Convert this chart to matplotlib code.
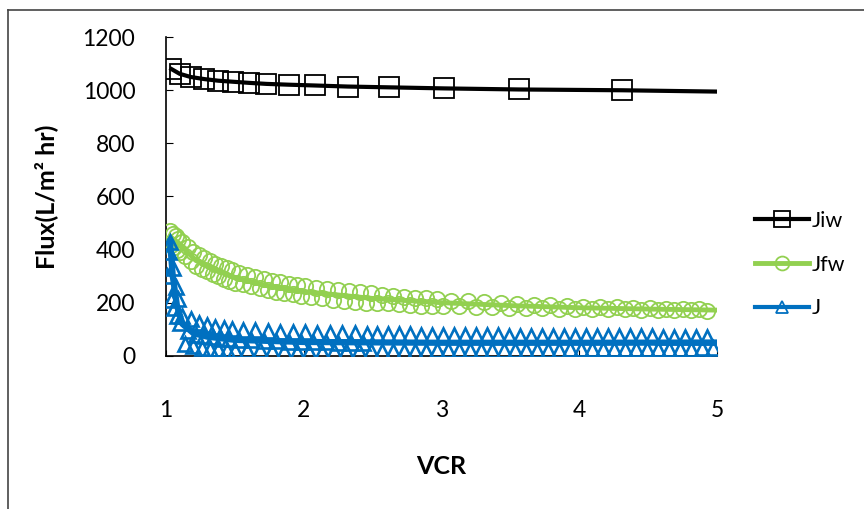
import matplotlib
matplotlib.use("Agg")
import matplotlib.pyplot as plt
from matplotlib.lines import Line2D

plt.rcParams['font.family'] = ['Lato', 'DejaVu Sans']

# Jiw (pure water flux)
jiw_x = [1.04, 1.10, 1.18, 1.28, 1.38, 1.49, 1.60, 1.73, 1.89, 2.08, 2.32, 2.62, 3.02, 3.56, 4.31]
jiw_y = [1080, 1062, 1050, 1042, 1036, 1032, 1028, 1024, 1021, 1018, 1014, 1011, 1007, 1003, 1000]
jiw_line_x = jiw_x + [5.0]
jiw_line_y = jiw_y + [995]

# Jfw (fouled water flux) - trend line and measured points
jfw_line_x = [1.03, 1.10, 1.20, 1.30, 1.50, 1.75, 2.00, 2.50, 3.00, 3.50, 4.00, 4.50, 5.00]
jfw_line_y = [450, 418, 368, 338, 294, 262, 242, 216, 200, 189, 181, 176, 172]
jfw_x = [1.03, 1.04, 1.05, 1.06, 1.07, 1.08, 1.09, 1.10,
         1.12, 1.14, 1.16, 1.18, 1.20, 1.22, 1.24, 1.26, 1.28, 1.30,
         1.32, 1.34, 1.36, 1.38, 1.40, 1.42, 1.44, 1.46, 1.48, 1.50,
         1.53, 1.56, 1.59, 1.62, 1.65, 1.68, 1.71, 1.74, 1.77, 1.80,
         1.83, 1.86, 1.89, 1.92, 1.95, 1.98, 2.01,
         2.05, 2.09, 2.13, 2.17, 2.21, 2.25, 2.29, 2.33, 2.37, 2.41,
         2.45, 2.49, 2.53, 2.57, 2.61, 2.65, 2.69, 2.73, 2.77, 2.81,
         2.85, 2.89, 2.93, 2.97, 3.01,
         3.07, 3.13, 3.19, 3.25, 3.31, 3.37, 3.43, 3.49, 3.55, 3.61,
         3.67, 3.73, 3.79, 3.85, 3.91, 3.97, 4.03, 4.09, 4.15, 4.21,
         4.27, 4.33, 4.39, 4.45, 4.51, 4.57, 4.63, 4.69, 4.75, 4.81,
         4.87, 4.93]
jfw_y = [470, 418, 460, 408, 450, 399, 441, 391,
         430, 376, 410, 356, 392, 340, 378, 328, 367, 318,
         357, 308, 347, 299, 338, 290, 330, 282, 322, 276,
         311, 269, 303, 261, 296, 255, 289, 248, 283, 242,
         277, 237, 272, 231, 267, 226, 262,
         221, 257, 216, 252, 211, 247, 207, 243, 203, 239,
         199, 235, 199, 228, 197, 225, 195, 222, 192, 219,
         189, 216, 187, 214, 187,
         207, 186, 205, 184, 203, 182, 200, 181, 195, 181,
         193, 180, 191, 178, 189, 176, 184, 177, 183, 176,
         182, 175, 180, 174, 179, 173, 178, 172, 177, 171,
         176, 170]

# J (permeate flux) - trend line and measured points
j_line_x = [1.03, 1.05, 1.08, 1.12, 1.20, 1.30, 1.50, 2.00, 3.00, 4.00, 5.00]
j_line_y = [430, 300, 190, 120, 85, 72, 60, 52, 49, 49, 50]
j_x = [1.01, 1.02, 1.03, 1.04, 1.05, 1.06, 1.07, 1.08, 1.09, 1.10,
       1.12, 1.14, 1.16, 1.18, 1.20, 1.22, 1.24, 1.26, 1.28, 1.30,
       1.32, 1.34, 1.36, 1.38, 1.40, 1.42, 1.44, 1.46, 1.48, 1.50,
       1.53, 1.56, 1.59, 1.62, 1.65, 1.68, 1.71, 1.74, 1.77, 1.80,
       1.83, 1.86, 1.89, 1.92, 1.95, 1.98, 2.01, 2.04, 2.07, 2.10,
       2.13, 2.16, 2.19, 2.22, 2.25, 2.28, 2.31, 2.34, 2.37, 2.40,
       2.43, 2.46, 2.49,
       2.53, 2.57, 2.61, 2.65, 2.69, 2.73, 2.77, 2.81, 2.85, 2.89,
       2.93, 2.97, 3.01, 3.05, 3.09, 3.13, 3.17, 3.21, 3.25, 3.29,
       3.33, 3.37, 3.41, 3.45, 3.49, 3.53, 3.57, 3.61, 3.65, 3.69,
       3.73, 3.77, 3.81, 3.85, 3.89, 3.93, 3.97, 4.01, 4.05, 4.09,
       4.13, 4.17, 4.21, 4.25, 4.29, 4.33, 4.37, 4.41, 4.45, 4.49,
       4.53, 4.57, 4.61, 4.65, 4.69, 4.73, 4.77, 4.81, 4.85, 4.89,
       4.93, 4.97]
j_y = [300, 390, 430, 210, 330, 180, 260, 150, 215, 125,
       150, 44, 95, 138, 35, 80, 124, 31, 74, 115,
       27, 70, 110, 25, 65, 105, 23, 62, 101, 22,
       61, 99, 21, 58, 96, 20, 56, 92, 18, 54,
       91, 17, 53, 89, 16, 52, 88, 16, 51, 87,
       16, 51, 86, 17, 50, 85, 17, 50, 84, 17,
       50, 83, 18,
       82, 18, 82, 18, 81, 19, 81, 19, 80, 19,
       80, 20, 78, 20, 78, 20, 78, 21, 77, 21,
       77, 21, 77, 22, 76, 22, 76, 22, 76, 23,
       75, 23, 75, 23, 75, 24, 74, 24, 74, 24,
       74, 25, 74, 25, 73, 25, 73, 26, 73, 26,
       73, 26, 72, 27, 72, 27, 72, 27, 72, 28,
       72, 28]

black = '#000000'
green = '#92D050'
blue = '#0070C0'

fig = plt.figure(figsize=(8.64, 5.09), dpi=100)
ax = fig.add_axes([0.192, 0.301, 0.638, 0.626])

ax.plot(jiw_line_x, jiw_line_y, color=black, lw=3.0, zorder=3)
ax.plot(jiw_x, jiw_y, ls='none', marker='s', ms=14, mfc='none', mec=black, mew=1.3, zorder=4)

ax.plot(jfw_line_x, jfw_line_y, color=green, lw=3.5, zorder=3)
ax.plot(jfw_x, jfw_y, ls='none', marker='o', ms=11, mfc='none', mec=green, mew=1.3, zorder=4)

ax.plot(j_line_x, j_line_y, color=blue, lw=4.5, zorder=5)
ax.plot(j_x, j_y, ls='none', marker='^', ms=10, mfc='none', mec=blue, mew=1.9, zorder=6)

ax.set_xlim(1, 5)
ax.set_ylim(0, 1200)
ax.set_xticks([1, 2, 3, 4, 5])
ax.set_yticks(range(0, 1201, 200))
for s in ['top', 'right']:
    ax.spines[s].set_visible(False)
for s in ['left', 'bottom']:
    ax.spines[s].set_linewidth(1.2)
ax.tick_params(axis='y', direction='in', length=5, labelsize=16.5, pad=22)
ax.tick_params(axis='x', direction='in', length=4, labelsize=16.5, pad=32)

ax.set_ylabel('Flux(L/m² hr)', fontsize=18, fontweight='bold', labelpad=18)
ax.set_xlabel('VCR', fontsize=18, fontweight='bold', labelpad=24)

handles = [
    Line2D([], [], color=black, lw=3.0, marker='s', ms=11, mfc='none', mec=black, mew=1.3),
    Line2D([], [], color=green, lw=3.5, marker='o', ms=10, mfc='none', mec=green, mew=1.3),
    Line2D([], [], color=blue, lw=3.0, marker='^', ms=8, mfc='none', mec=blue, mew=1.3),
]
fig.legend(handles, ['Jiw', 'Jfw', 'J'], loc='center left', bbox_to_anchor=(0.874, 0.48),
           frameon=False, fontsize=15.5, handlelength=2.5, handletextpad=0.15,
           labelspacing=1.1, borderpad=0, borderaxespad=0)

# outer chart border
fig.add_artist(Line2D([8 / 864, 8 / 864], [0, 1 - 10 / 509], color='#444444', lw=1.2))
fig.add_artist(Line2D([8 / 864, 1], [1 - 10 / 509, 1 - 10 / 509], color='#444444', lw=1.2))

fig.savefig('out.png', dpi=100)
